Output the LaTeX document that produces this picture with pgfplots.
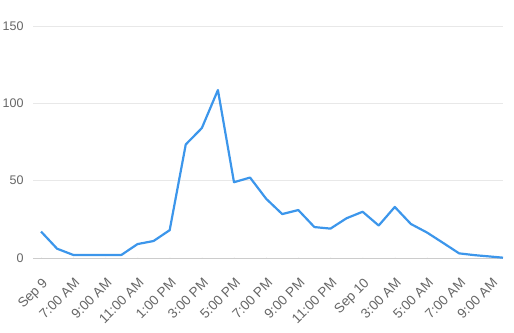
\documentclass[border=0pt]{standalone}
\usepackage{pgfplots}
\pgfplotsset{compat=1.18}
\usepackage{fontspec}
\setmainfont{Liberation Sans}
\definecolor{linec}{HTML}{3C96EB}
\definecolor{txt}{HTML}{666666}
\definecolor{grd}{HTML}{E8E8E8}
\definecolor{axc}{HTML}{CCCCCC}
\begin{document}
\begin{tikzpicture}[x=1pt,y=1pt]
\path[use as bounding box] (-33,-74) rectangle (481,258);
\begin{axis}[
  at={(0,0)}, anchor=south west,
  scale only axis, width=470pt, height=232pt,
  xmin=-0.5, xmax=28.73, ymin=0, ymax=150,
  axis line style={draw=none},
  clip=true,
  ytick={0,50,100,150},
  ymajorgrids, grid style={grd, line width=0.8pt},
  xtick={0,2,...,28},
  xticklabels={Sep 9,7:00 AM,9:00 AM,11:00 AM,1:00 PM,3:00 PM,5:00 PM,7:00 PM,9:00 PM,11:00 PM,Sep 10,3:00 AM,5:00 AM,7:00 AM,9:00 AM},
  tick label style={text=txt},
  /pgf/number format/assume math mode=true,
  yticklabel style={font=\fontsize{12.5}{14}\selectfont, anchor=east, xshift=-6pt},
  xticklabel style={font=\fontsize{13.5}{15}\selectfont, xshift=0.5pt, yshift=-19pt, rotate=45, anchor=north east, inner sep=0pt},
  tick style={draw=none},
]
\draw[axc, line width=0.8pt] (axis cs:-0.5,0) -- (axis cs:28.73,0);
\pgfplotsinvokeforeach{0,2,...,28}{
  \draw[axc, line width=0.8pt] (axis cs:#1,0) -- ++(0,-5pt);
}
\addplot[linec, line width=2.2pt, mark=none, line join=round] coordinates {
(0,17.1) (1,6) (2,2) (3,2) (4,2) (5,2) (6,9) (7,11) (8,18)
(9,73.4) (10,84) (11,108.6) (12,49) (13,52) (14,38.3) (15,28.4)
(16,31) (17,20) (18,19) (19,25.7) (20,29.9) (21,21) (22,33)
(23,22) (24,16.5) (25,9.8) (26,3) (27,1.8) (28,0.9) (28.73,0.2)
};
\end{axis}
\end{tikzpicture}
\end{document}
